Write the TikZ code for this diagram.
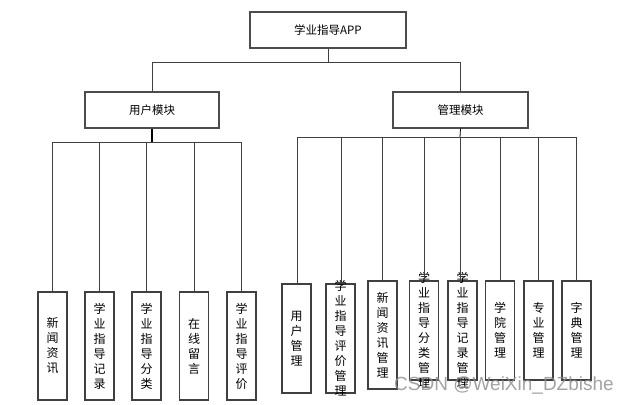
\documentclass[tikz,border=0pt]{standalone}
\usepackage{fontspec}
\newfontfamily\cjk{Noto Sans CJK SC}
\setsansfont{Liberation Sans}
\begin{document}
\begin{tikzpicture}[x=1pt,y=-1pt,
  box/.style={draw=black!70,line width=1.1pt,fill=white,inner sep=0pt,
    font=\cjk\fontsize{11.5}{13}\selectfont},
  leaf/.style={draw=black!75,line width=1.1pt,fill=white,inner sep=0pt,minimum width=29pt},
  vtext/.style={font=\cjk\fontsize{12}{15}\selectfont,align=center,inner sep=0pt},
  conn/.style={draw=black!75,line width=0.8pt}
]
\useasboundingbox (0,0) rectangle (625,405);
% top
\node[box,minimum width=156pt,minimum height=36pt] (app) at (328,30) {学业指导APP};
\node[box,minimum width=134pt,minimum height=36pt] (user) at (152,110) {用户模块};
\node[box,minimum width=135pt,minimum height=36pt] (mgmt) at (460.5,110) {管理模块};
\coordinate (topbar) at (328,62);
\draw[conn] (app.south) -- (topbar);
\draw[conn] (topbar) -| (user.north);
\draw[conn] (topbar) -| (mgmt.north);
% user leaves
\foreach \n/\x/\t in {l1/52.5/{新\\闻\\资\\讯},l2/99.5/{学\\业\\指\\导\\记\\录},l3/146.5/{学\\业\\指\\导\\分\\类},l4/194/{在\\线\\留\\言},l5/241.5/{学\\业\\指\\导\\评\\价}}{
  \node[leaf,minimum height=108pt] (\n) at (\x,346) {};
  \node[vtext] at (\n.center) {\t};
}
\coordinate (ubar) at (152,142);
\draw[conn,line width=1.2pt,black] (user.south) -- (ubar);
\foreach \n in {l1,l2,l3,l4,l5}{\draw[conn] (ubar) -| (\n.north);}
% management leaves
\node[leaf,minimum height=109pt] (r1) at (296.5,338.5) {};
\node[leaf,minimum height=109pt] (r2) at (340.5,338.5) {};
\node[leaf,minimum height=108pt] (r3) at (382.5,335) {};
\node[leaf,minimum height=99pt] (r4) at (424,330.5) {};
\node[leaf,minimum height=99pt] (r5) at (462.5,330.5) {};
\node[leaf,minimum height=99pt] (r6) at (500,330.5) {};
\node[leaf,minimum height=99pt] (r7) at (538.5,330.5) {};
\node[leaf,minimum height=99pt] (r8) at (576.5,330.5) {};
\node[vtext] at (r1.center) {用\\户\\管\\理};
\node[vtext] at (r2.center) {学\\业\\指\\导\\评\\价\\管\\理};
\node[vtext] at (r3.center) {新\\闻\\资\\讯\\管\\理};
\node[vtext] at (r4.center) {学\\业\\指\\导\\分\\类\\管\\理};
\node[vtext] at (r5.center) {学\\业\\指\\导\\记\\录\\管\\理};
\node[vtext] at (r6.center) {学\\院\\管\\理};
\node[vtext] at (r7.center) {专\\业\\管\\理};
\node[vtext] at (r8.center) {字\\典\\管\\理};
\coordinate (mbar) at (460,137);
\draw[conn,black] (mgmt.south) -- (mbar);
\foreach \n/\x in {r1/297,r2/341,r3/382,r4/424,r5/460,r6/500,r7/538,r8/576}{
  \draw[conn] (mbar) -| (\x,137) -- (\x,0 |- \n.north);
}
% watermark
\node[font=\sffamily\fontsize{19}{19}\selectfont,text=black!45,opacity=0.8,inner sep=0pt] (wm) at (504,385) {CSDN @WeiXin\_DZbishe};
\end{tikzpicture}
\end{document}
